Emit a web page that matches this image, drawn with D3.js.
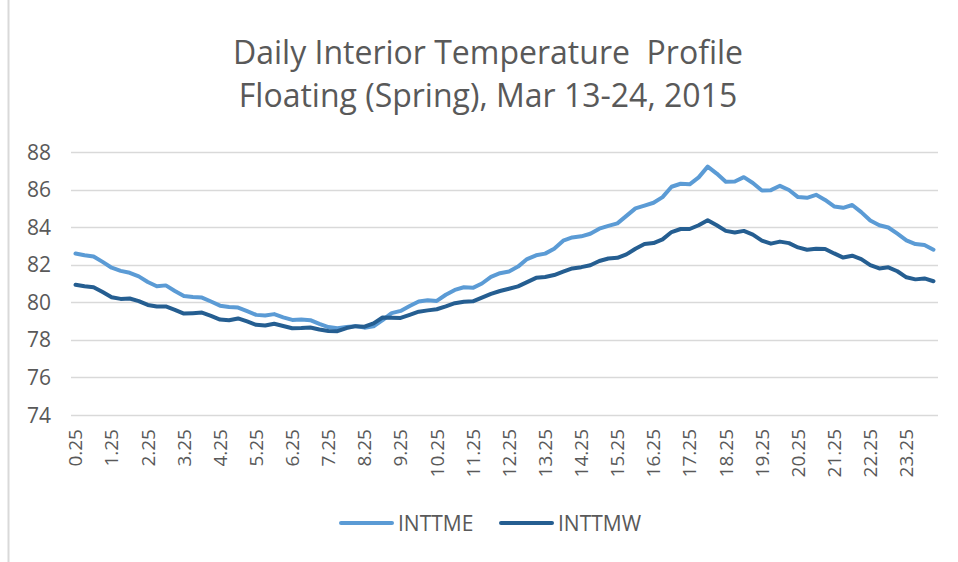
<!DOCTYPE html>
<html>
<head>
<meta charset="utf-8">
<script src="https://cdn.jsdelivr.net/npm/d3@7"></script>
<style>
  body { margin: 0; background: #fff; }
  text { font-family: "Open Sans", "Noto Sans", sans-serif; fill: #595959; white-space: pre; }
</style>
</head>
<body>
<script>
// time of day, every 15 minutes
var hours = d3.range(1, 97).map(function (i) { return i * 0.25 })

var inttme = [
  82.6, 82.5, 82.44, 82.15, 81.84, 81.67, 81.57, 81.38, 81.08, 80.85, 80.9, 80.6,
  80.33, 80.28, 80.25, 80.04, 79.82, 79.75, 79.72, 79.53, 79.33, 79.3, 79.37, 79.2,
  79.06, 79.08, 79.05, 78.85, 78.68, 78.62, 78.68, 78.73, 78.65, 78.72, 79.05, 79.42,
  79.54, 79.8, 80.04, 80.11, 80.07, 80.4, 80.66, 80.8, 80.77, 81.0, 81.35, 81.55,
  81.64, 81.9, 82.3, 82.5, 82.59, 82.85, 83.28, 83.45, 83.51, 83.65, 83.92, 84.07,
  84.2, 84.6, 85.0, 85.15, 85.3, 85.6, 86.15, 86.31, 86.28, 86.65, 87.22, 86.85,
  86.42, 86.43, 86.66, 86.35, 85.95, 85.97, 86.2, 85.98, 85.6, 85.56, 85.72, 85.45,
  85.1, 85.03, 85.18, 84.8, 84.35, 84.1, 83.98, 83.65, 83.3, 83.1, 83.05, 82.8
]

var inttmw = [
  80.93, 80.85, 80.8, 80.55, 80.27, 80.18, 80.2, 80.06, 79.86, 79.78, 79.78, 79.6,
  79.4, 79.42, 79.45, 79.28, 79.08, 79.04, 79.14, 78.98, 78.8, 78.76, 78.86, 78.74,
  78.62, 78.63, 78.66, 78.55, 78.47, 78.46, 78.63, 78.73, 78.7, 78.88, 79.19, 79.18,
  79.17, 79.33, 79.5, 79.57, 79.63, 79.78, 79.95, 80.03, 80.05, 80.25, 80.45, 80.6,
  80.72, 80.85, 81.07, 81.3, 81.35, 81.45, 81.63, 81.8, 81.87, 81.97, 82.2, 82.33,
  82.37, 82.55, 82.85, 83.1, 83.15, 83.35, 83.74, 83.9, 83.9, 84.1, 84.37, 84.1,
  83.8, 83.72, 83.8, 83.6, 83.28, 83.12, 83.23, 83.15, 82.92, 82.8, 82.85, 82.84,
  82.6, 82.38, 82.48, 82.3, 81.98, 81.8, 81.86, 81.65, 81.33, 81.22, 81.27, 81.12
]

var yTicks = [74, 76, 78, 80, 82, 84, 86, 88]
var titleLines = ["Daily Interior Temperature  Profile", "Floating (Spring), Mar 13-24, 2015"]

var series = [
  { name: "INTTME", values: inttme, color: "#5b9bd5" },
  { name: "INTTMW", values: inttmw, color: "#255e91" }
]

var width = 958,
    height = 562

var svg = d3.select("body").append("svg")
    .attr("width", width)
    .attr("height", height)

// chart area border (left edge only visible)
svg.append("line")
    .attr("x1", 8.5).attr("x2", 8.5)
    .attr("y1", 0).attr("y2", height)
    .attr("stroke", "#d9d9d9")
    .attr("stroke-width", 2)

var x = d3.scaleBand()
    .domain(hours.map(String))
    .range([71, 938])

var y = d3.scaleLinear()
    .domain([74, 88])
    .range([415, 152])

/* gridlines */
svg.append("g").selectAll("line")
    .data(yTicks)
    .enter().append("line")
    .attr("x1", 71).attr("x2", 938)
    .attr("y1", function (d) { return Math.round(y(d)) + 0.5 })
    .attr("y2", function (d) { return Math.round(y(d)) + 0.5 })
    .attr("stroke", "#d9d9d9")
    .attr("stroke-width", 1.3)

/* y labels */
svg.append("g").selectAll("text")
    .data(yTicks)
    .enter().append("text")
    .attr("x", 51)
    .attr("y", function (d) { return y(d) })
    .attr("dy", "0.36em")
    .attr("text-anchor", "end")
    .style("font-size", "21px")
    .text(function (d) { return d })

/* x labels, every hour */
svg.append("g").selectAll("text")
    .data(hours.filter(function (d, i) { return i % 4 === 0 }))
    .enter().append("text")
    .attr("transform", function (d) {
        return "translate(" + (x(String(d)) + x.bandwidth() / 2) + ",429) rotate(-90)"
    })
    .attr("dy", "0.36em")
    .attr("text-anchor", "end")
    .style("font-size", "19px")
    .text(function (d) { return d.toFixed(2) })

var line = d3.line()
    .x(function (d, i) { return x(String(hours[i])) + x.bandwidth() / 2 })
    .y(function (d) { return y(d) })

svg.append("g").selectAll("path")
    .data(series)
    .enter().append("path")
    .attr("d", function (d) { return line(d.values) })
    .attr("fill", "none")
    .attr("stroke", function (d) { return d.color })
    .attr("stroke-width", 4)
    .attr("stroke-linejoin", "round")
    .attr("stroke-linecap", "round")

/* title */
svg.append("g").selectAll("text")
    .data(titleLines)
    .enter().append("text")
    .attr("x", 488)
    .attr("y", function (d, i) { return 64 + i * 43 })
    .attr("text-anchor", "middle")
    .style("font-size", "32px")
    .text(function (d) { return d })

/* legend */
var legend = svg.append("g").selectAll("g")
    .data(series)
    .enter().append("g")
    .attr("transform", function (d, i) { return "translate(" + (341 + i * 160) + ",523)" })

legend.append("line")
    .attr("x1", 0).attr("x2", 51)
    .attr("stroke", function (d) { return d.color })
    .attr("stroke-width", 4)
    .attr("stroke-linecap", "round")

legend.append("text")
    .attr("x", 57)
    .attr("dy", "0.36em")
    .style("font-size", "21px")
    .text(function (d) { return d.name })
</script>
</body>
</html>
